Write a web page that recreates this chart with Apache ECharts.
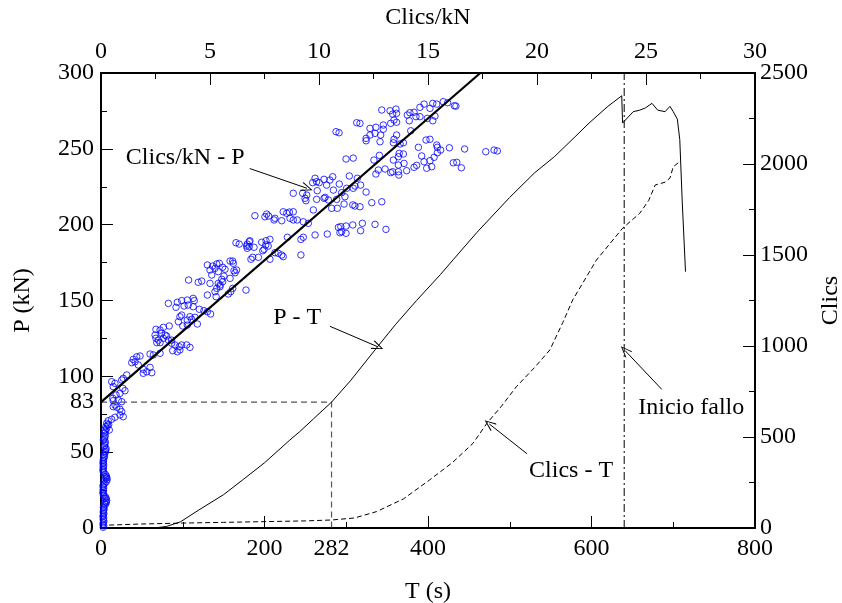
<!DOCTYPE html>
<html>
<head>
<meta charset="utf-8">
<script src="https://cdn.jsdelivr.net/npm/echarts@6.0.0/dist/echarts.min.js"></script>
<style>
  html, body { margin: 0; padding: 0; background: #fff; }
</style>
</head>
<body>
<div id="box" style="width: 842px; height: 603px;"></div>
<script>
// P - T  [T (s), P (kN)]
var pT = [
  [65, 0], [80, 1], [97, 4], [120, 12], [150, 22], [174, 32], [200, 43], [231, 58],
  [243, 63.5], [260, 72], [282, 83], [305, 97], [339, 120], [360, 134], [386, 150],
  [415, 167], [431, 177], [460, 195], [500, 218], [530, 234], [555, 245], [580, 258],
  [597, 267], [620, 278], [637, 285], [638, 267], [645, 271], [651, 274.5], [659, 275.5],
  [666, 277], [674, 280], [681, 275.5], [690, 274.5], [696, 278], [700, 274.5],
  [705, 269.6], [708, 256], [711, 215], [715, 169]
];

// Clics - T  [T (s), Clics]
var clicsT = [
  [10, 16], [50, 22], [100, 27], [150, 31], [200, 35], [250, 39], [282, 44], [310, 55],
  [337, 90], [370, 160], [402, 264], [430, 360], [455, 465], [472, 575], [490, 670],
  [508, 776], [530, 880], [549, 978], [565, 1130], [577, 1253], [606, 1472], [638, 1647],
  [659, 1729], [670, 1800], [678, 1885], [690, 1900], [696, 1923], [700, 1985], [708, 2013]
];

// Clics/kN - P  [Clics/kN, P (kN)]
var clicsKN_P = [
  [12.88,275.6],[13.26,275.1],[13.53,276.2],[13.38,272.9],[13.56,273.4],[14.05,272.3],[14.17,273.8],
  [14.36,274.1],[14.63,277.4],[14.82,279.5],[15.09,276.7],[15.22,280.0],[15.40,279.5],[15.70,281.1],
  [15.90,280.4],[16.21,278.4],[16.28,278.2],[14.63,271.2],[14.45,271.2],[14.14,268.5],[14.97,270.1],
  [15.22,268.5],[15.32,271.6],[11.73,267.2],[11.88,266.8],[13.29,266.8],[13.44,269.0],[13.56,267.5],
  [12.95,265.7],[12.61,264.2],[12.34,263.5],[12.95,262.9],[12.83,259.1],[12.57,260.2],[12.34,259.1],
  [12.16,256.9],[12.16,255.3],[12.80,254.7],[13.56,259.1],[13.44,256.3],[13.41,254.0],[14.21,261.9],
  [13.72,253.2],[13.87,254.0],[10.78,261.3],[10.92,260.6],[14.56,251.0],[14.91,255.8],[15.09,256.3],
  [15.40,252.5],[15.43,251.0],[15.58,249.2],[15.43,247.4],[15.98,250.7],[16.68,249.9],[17.65,248.1],
  [18.03,249.2],[18.18,248.6],[13.68,247.0],[13.87,246.6],[13.64,244.8],[14.71,245.3],[15.09,242.2],
  [15.28,244.4],[14.82,241.5],[16.16,240.8],[16.32,241.1],[16.53,237.5],[15.17,238.2],[14.94,237.2],
  [14.48,239.1],[14.36,237.8],[14.02,235.6],[13.90,240.4],[13.64,239.3],[13.41,242.6],[12.77,245.7],
  [12.52,242.6],[11.57,243.9],[11.24,243.3],[12.72,236.0],[13.03,236.7],[12.61,233.4],[13.29,234.3],
  [13.38,234.9],[13.64,234.9],[13.66,232.7],[11.39,232.1],[11.76,230.6],[10.63,231.6],[10.50,229.4],
  [10.23,229.9],[10.93,226.8],[10.66,222.8],[10.35,226.1],[11.27,224.0],[11.57,224.0],[11.65,225.5],
  [11.91,226.1],[12.16,221.5],[11.04,221.1],[10.28,218.0],[10.43,216.3],[10.81,216.7],[11.19,218.4],
  [11.15,213.6],[10.84,210.8],[10.58,210.8],[11.55,213.0],[11.65,212.3],[11.88,211.8],[12.42,214.5],
  [12.88,215.1],[10.89,198.2],[11.00,198.7],[11.24,199.1],[11.55,199.8],[11.99,200.9],[12.57,200.2],
  [13.07,196.9],[10.96,194.7],[11.24,194.3],[11.91,196.0],[10.38,193.8],
  [9.82,230.6],[9.89,228.3],[9.71,227.7],[10.01,227.7],[8.82,220.7],[9.25,220.7],[9.44,219.5],
  [9.36,217.4],[9.40,215.8],[9.92,222.4],[9.89,216.7],[10.23,217.4],[9.74,209.7],[8.82,208.5],
  [8.64,208.3],[8.52,207.5],[8.36,208.5],[7.60,207.0],[7.69,205.7],[7.52,205.2],[7.06,205.9],
  [7.98,204.2],[7.94,203.1],[8.29,202.6],[8.67,204.2],[8.82,203.1],[9.00,203.1],[9.28,201.9],
  [9.51,200.9],[11.04,195.4],[9.82,193.2],[9.28,191.7],[9.17,190.3],[8.55,191.7],[7.75,190.3],
  [7.57,189.4],[7.37,188.4],[6.83,189.4],[6.71,187.2],[6.80,185.5],[6.71,184.4],[6.19,188.1],
  [6.34,187.2],[7.67,185.9],[7.48,183.7],[7.42,182.8],[7.22,178.5],[6.96,178.5],[6.88,177.2],
  [7.75,177.2],[7.98,181.5],[8.13,181.1],[8.29,180.0],[8.36,178.9],[9.17,180.0],[5.92,176.0],
  [6.04,176.0],[6.07,174.5],[4.88,173.4],[5.12,172.7],[5.31,174.1],[5.58,171.9],[5.23,171.2],
  [6.80,188.8],[6.68,185.9],[7.02,185.1],[7.56,186.6],[5.43,174.5],[5.00,170.1],[5.38,169.0],
  [5.69,170.6],[6.10,169.6],[6.22,170.1],[6.15,168.3],[5.92,164.6],[5.64,166.1],[5.54,164.0],
  [5.58,162.4],[5.38,161.3],[5.46,160.2],[5.46,159.1],[5.31,158.0],[5.23,155.8],[5.00,161.3],
  [5.08,166.8],[5.95,155.8],[6.04,158.0],[5.84,154.3],[6.65,156.9],[4.88,153.6],[5.28,152.5],
  [4.02,163.5],[4.46,162.0],[4.62,162.8],[3.09,148.1],[3.50,148.8],[3.70,149.9],[3.96,150.3],
  [4.23,151.4],[4.28,149.9],[4.00,147.0],[3.81,146.4],[3.44,145.5],[4.23,145.9],[4.51,144.2],
  [4.72,143.3],[4.88,142.6],[5.03,141.1],[3.70,140.4],[3.62,139.3],[4.08,139.3],[3.96,137.1],
  [4.16,137.6],[4.31,138.9],[3.55,136.0],[3.75,133.2],[3.96,133.8],[4.42,134.5],[3.13,133.2],
  [2.86,132.3],[2.71,130.5],[2.52,131.0],[2.78,128.4],[2.48,127.2],[2.52,125.1],[2.63,123.9],
  [2.86,125.1],[3.01,126.6],[3.09,123.9],[2.71,122.2],[2.56,122.2],[3.24,121.8],[3.39,120.7],
  [3.59,119.5],[3.93,120.7],[4.08,119.1],
  [2.94,127.2],[3.24,123.9],[3.70,120.7],[3.29,116.9],[3.50,116.2],[3.62,117.4],[2.25,114.7],
  [2.40,114.1],[2.71,115.2],[1.64,112.9],[1.79,113.4],[1.48,111.2],[1.56,109.6],[1.41,109.0],
  [1.71,107.5],[1.94,104.6],[2.10,103.0],[2.33,102.4],[1.94,102.0],[2.25,105.9],[1.18,100.9],
  [1.02,98.7],[0.95,97.6],[0.49,96.5],[0.64,95.4],[0.56,93.2],[1.00,92.1],[1.10,90.5],
  [0.87,88.8],[0.69,87.7],[0.54,85.5],[0.56,83.9],[0.79,84.4],[0.95,83.3],[0.64,81.1],
  [0.72,79.6],[0.56,80.0],[0.87,78.3],[0.95,76.7],[1.02,73.4],[0.87,74.5],[0.64,73.0],
  [0.49,71.7],[0.33,70.7],[0.26,69.0],[0.38,64.6],[0.26,65.7],[0.18,64.6],[0.14,62.4],
  [0.18,60.2],[0.11,58.0],[0.18,55.8],[0.14,53.6],[0.23,52.5],[0.18,33.8],[0.23,32.8],
  [0.14,31.6],[0.18,19.6],[0.23,17.3],[0.16,16.3],
  // banda densa junto a Clics/kN = 0
  [0.10,0.5],[0.12,1.5],[0.09,2.5],[0.11,3.5],[0.13,4.5],[0.10,5.5],[0.12,6.5],[0.09,7.5],
  [0.11,8.5],[0.13,9.5],[0.10,10.5],[0.12,11.5],[0.14,12.5],[0.11,13.5],[0.13,14.5],[0.20,15.5],
  [0.24,16.8],[0.26,18.2],[0.24,19.4],[0.20,20.6],[0.12,21.5],[0.10,22.5],[0.09,23.5],[0.11,24.5],
  [0.10,25.5],[0.12,26.5],[0.09,27.5],[0.11,28.5],[0.18,29.5],[0.24,30.6],[0.28,31.8],[0.27,33.0],
  [0.25,34.2],[0.20,35.4],[0.12,36.5],[0.10,37.5],[0.09,38.5],[0.11,39.5],[0.10,40.5],[0.12,41.5],
  [0.09,42.5],[0.11,43.5],[0.10,44.5],[0.12,45.5],[0.14,46.5],[0.16,47.5],[0.13,48.5],[0.18,49.5],
  [0.20,50.5],[0.22,51.5],[0.17,54.5],[0.20,56.8],[0.16,59.0],[0.19,61.2],[0.21,63.5],[0.22,66.8],
  [0.30,67.8],[0.35,68.2]
];

// recta de ajuste Clics/kN - P
var fitLine = [[0, 83], [17.4, 300]];

// guia T = 282 s, P = 83 kN
var guide = [[0, 83], [282, 83], [282, 0]];

// inicio fallo
var failT = 640;
var failLine = [[failT, 0], [failT, 300]];

var tLabels = [0, 200, 282, 400, 600, 800];
var pLabels = [0, 50, 83, 100, 150, 200, 250, 300];

// textos y flechas (coordenadas T, P)
var notes = [
  { name: 'Clics/kN - P', at: [103, 244], from: [182, 237], to: [252, 224] },
  { name: 'P - T', at: [240, 138.5], from: [280, 133], to: [338.5, 119.5] },
  { name: 'Clics - T', at: [575, 37.6], from: [521, 49], to: [475, 68.6] },
  { name: 'Inicio fallo', at: [722, 79], from: [686, 91.4], to: [641, 117] }
];

var FONT = 'Liberation Serif';
var FS = 24;
var openArrow = 'path://M0,0 L6,10 L5,10.8 L0,2 L-5,10.8 L-6,10 Z';

var myChart = echarts.init(document.getElementById('box'));

var axisCommon = {
  type: 'value',
  nameLocation: 'middle',
  nameTextStyle: { fontFamily: FONT, fontSize: FS, color: '#000' },
  axisLine: { show: true, onZero: false, lineStyle: { color: '#000', width: 2 } },
  axisTick: { show: true, inside: true, length: 12, lineStyle: { color: '#000', width: 1 } },
  minorTick: { show: true, splitNumber: 2, length: 6, lineStyle: { color: '#000', width: 1 } },
  splitLine: { show: false },
  axisLabel: { fontFamily: FONT, fontSize: FS, color: '#000', formatter: function (v) { return String(v); } }
};

function ax(extra) {
  return echarts.util.merge(echarts.util.clone(axisCommon), extra, true);
}

var option = {
  animation: false,
  grid: { left: 101, right: 87, top: 73, bottom: 75, containLabel: false, outerBoundsMode: 'none' },
  xAxis: [
    ax({ position: 'bottom', name: 'T (s)', nameGap: 52, min: 0, max: 800, interval: 200,
         axisLabel: { margin: 9, customValues: tLabels } }),
    ax({ position: 'top', name: 'Clics/kN', nameGap: 43, min: 0, max: 30, interval: 5,
         axisLabel: { margin: 9 } })
  ],
  yAxis: [
    ax({ position: 'left', name: 'P (kN)', nameGap: 66, nameRotate: 90, min: 0, max: 300, interval: 50,
         axisLabel: { margin: 7, customValues: pLabels } }),
    ax({ position: 'right', name: 'Clics', nameGap: 60, nameRotate: 90, min: 0, max: 2500, interval: 500,
         axisLabel: { margin: 5 } })
  ],
  series: [
    {
      name: 'guia', type: 'line', xAxisIndex: 0, yAxisIndex: 0, data: guide,
      symbol: 'none', silent: true,
      lineStyle: { color: '#555', width: 1.2, type: [6, 4] }
    },
    {
      name: 'Clics/kN - P', type: 'scatter', xAxisIndex: 1, yAxisIndex: 0, data: clicsKN_P,
      symbol: 'circle', symbolSize: 6.5, silent: true,
      itemStyle: { color: 'rgba(255,255,255,0)', borderColor: '#0000ff', borderWidth: 1 }
    },
    {
      name: 'ajuste', type: 'line', xAxisIndex: 1, yAxisIndex: 0, data: fitLine,
      symbol: 'none', silent: true,
      lineStyle: { color: '#000', width: 2.2 }
    },
    {
      name: 'Clics - T', type: 'line', xAxisIndex: 0, yAxisIndex: 1, data: clicsT,
      symbol: 'none', silent: true,
      lineStyle: { color: '#000', width: 1, type: [5, 3] }
    },
    {
      name: 'Inicio fallo', type: 'line', xAxisIndex: 0, yAxisIndex: 0, data: failLine,
      symbol: 'none', silent: true,
      lineStyle: { color: '#000', width: 1, type: [8, 3, 2, 3] }
    },
    {
      name: 'P - T', type: 'line', xAxisIndex: 0, yAxisIndex: 0, data: pT,
      symbol: 'none', silent: true,
      lineStyle: { color: '#000', width: 1 },
      markLine: {
        silent: true,
        symbolSize: [9, 12],
        lineStyle: { color: '#000', width: 1, type: 'solid' },
        label: { show: false },
        data: notes.map(function (n) {
          return [{ coord: n.from, symbol: 'none' }, { coord: n.to, symbol: openArrow }];
        })
      },
      markPoint: {
        silent: true,
        symbol: 'circle',
        symbolSize: 1,
        itemStyle: { color: 'rgba(0,0,0,0)' },
        label: { show: true, position: 'inside', formatter: '{b}',
                 fontFamily: FONT, fontSize: FS, color: '#000' },
        data: notes.map(function (n) { return { name: n.name, coord: n.at }; })
      }
    }
  ]
};

myChart.setOption(option);
</script>
</body>
</html>
